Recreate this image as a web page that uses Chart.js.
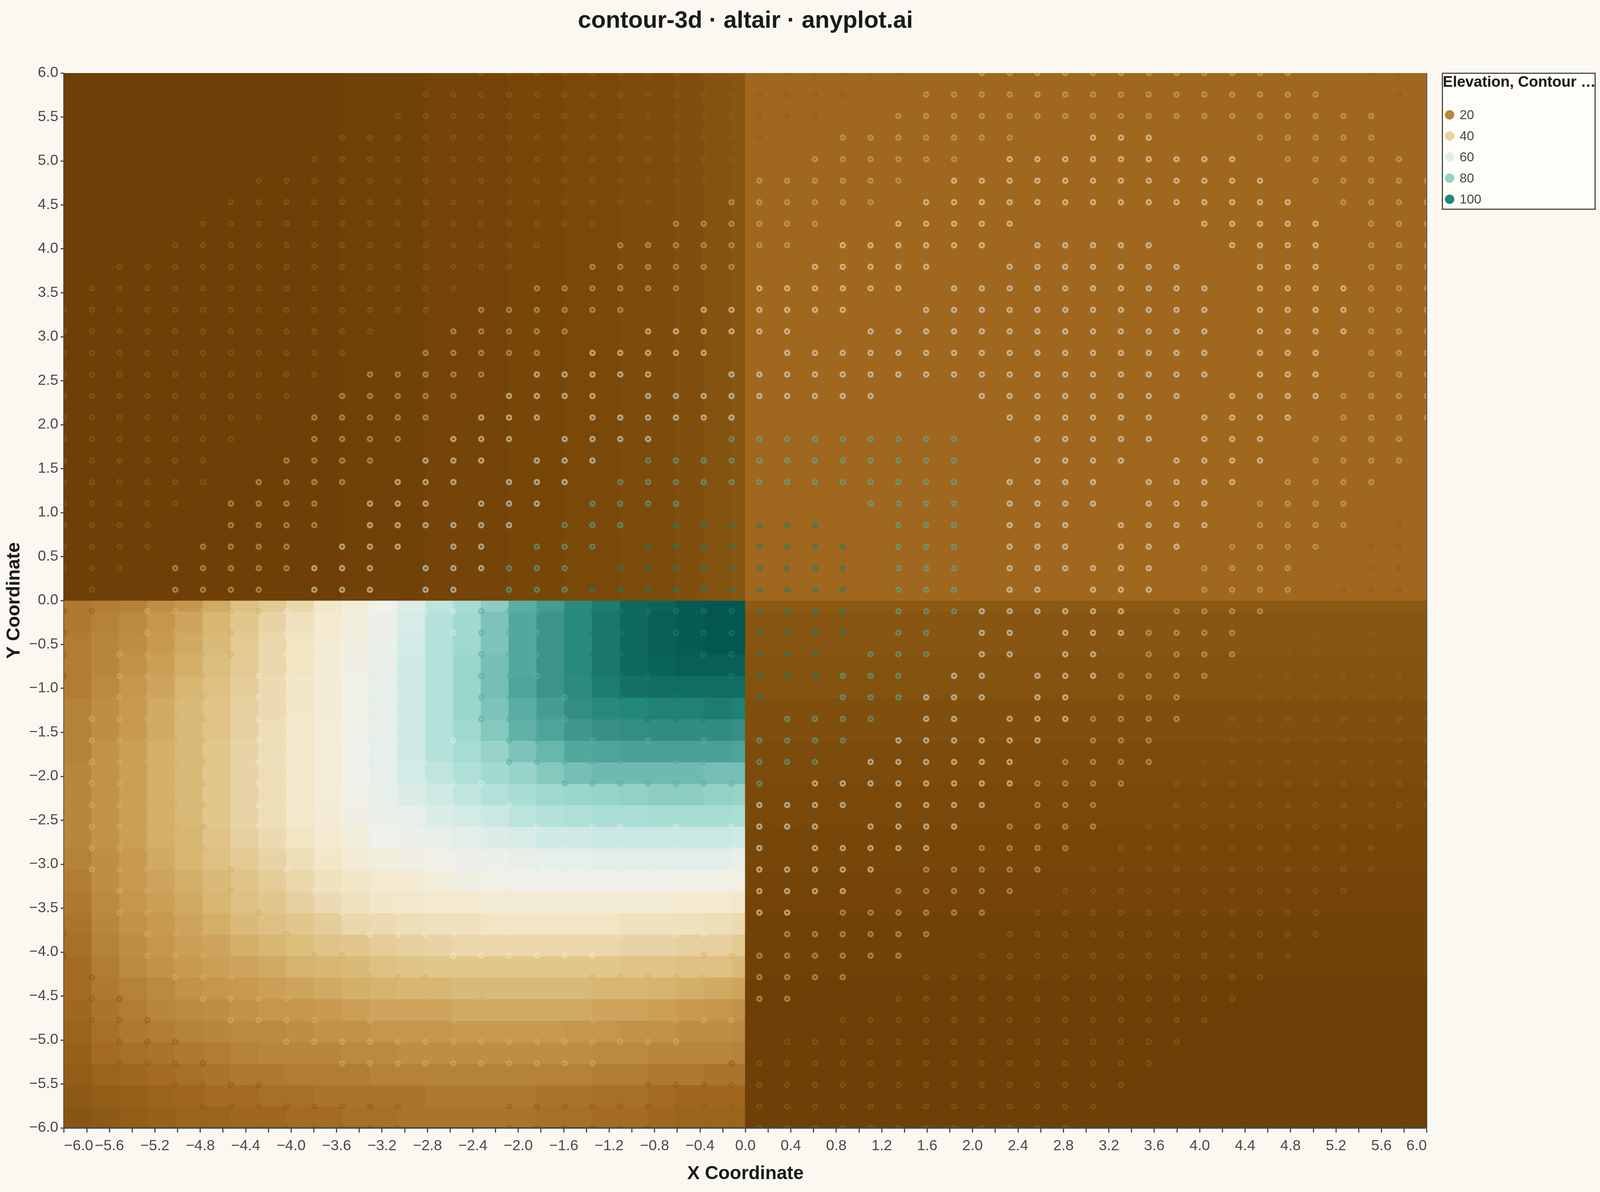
<!DOCTYPE html>
<html>
<head>
<meta charset="utf-8">
<title>contour-3d</title>
<script src="https://cdn.jsdelivr.net/npm/chart.js@4"></script>
<style>
  html, body { margin: 0; padding: 0; background: #faf8f1; overflow: hidden; }
  #wrap { position: relative; font-family: 'Liberation Sans', Arial, sans-serif; }
  #chart { display: block; }
  #legend { position: absolute; box-sizing: border-box; background: #fffdf7; border: 3px solid #4a4a44; overflow: hidden; }
  #legend .name { position: absolute; left: 0; font-weight: bold; color: #1a1a17; white-space: nowrap; }
  #legend .lab { position: absolute; color: #4a4a44; }
  #legend .dot { position: absolute; border-radius: 50%; }
</style>
</head>
<body>
<div id="wrap">
  <canvas id="chart"></canvas>
  <div id="legend"></div>
</div>
<script>
const chartTitle = 'contour-3d · altair · anyplot.ai';
const xTitle = 'X Coordinate';
const yTitle = 'Y Coordinate';
const legendTitle = 'Elevation, Contour …';
const legendValues = [20, 40, 60, 80, 100];

const xTicks = [-6, -5.8, -5.6, -5.4, -5.2, -5, -4.8, -4.6, -4.4, -4.2, -4, -3.8, -3.6, -3.4, -3.2, -3, -2.8, -2.6, -2.4, -2.2, -2, -1.8, -1.6, -1.4, -1.2, -1, -0.8, -0.6, -0.4, -0.2, 0, 0.2, 0.4, 0.6, 0.8, 1, 1.2, 1.4, 1.6, 1.8, 2, 2.2, 2.4, 2.6, 2.8, 3, 3.2, 3.4, 3.6, 3.8, 4, 4.2, 4.4, 4.6, 4.8, 5, 5.2, 5.4, 5.6, 5.8, 6];
const xLabels = [-6, -5.6, -5.2, -4.8, -4.4, -4, -3.6, -3.2, -2.8, -2.4, -2, -1.6, -1.2, -0.8, -0.4, 0, 0.4, 0.8, 1.2, 1.6, 2, 2.4, 2.8, 3.2, 3.6, 4, 4.4, 4.8, 5.2, 5.6, 6];
const yTicks = [-6, -5.5, -5, -4.5, -4, -3.5, -3, -2.5, -2, -1.5, -1, -0.5, 0, 0.5, 1, 1.5, 2, 2.5, 3, 3.5, 4, 4.5, 5, 5.5, 6];

// grid positions of the surface samples
const gridNodes = [-6, -5.7551, -5.5102, -5.2653, -5.0204, -4.7755, -4.5306, -4.2857, -4.0408, -3.7959, -3.551, -3.3061, -3.0612, -2.8163, -2.5714, -2.3265, -2.0816, -1.8367, -1.5918, -1.3469, -1.102, -0.8571, -0.6122, -0.3673, -0.1224, 0.1224, 0.3673, 0.6122, 0.8571, 1.102, 1.3469, 1.5918, 1.8367, 2.0816, 2.3265, 2.5714, 2.8163, 3.0612, 3.3061, 3.551, 3.7959, 4.0408, 4.2857, 4.5306, 4.7755, 5.0204, 5.2653, 5.5102, 5.7551, 6];

// visible elevation, x < 0 and y < 0: rows from y = 0 down, columns from x = -6 to 0
const lowerLeftRows = [
  [17,18,19,22,24,28,34,37,41,47,50,55,62,68,75,81,88,92,98,102,106,107,109,110,111],
  [17,19,21,24,27,31,36,40,44,48,51,56,63,70,76,83,89,94,99,103,106,108,109,110,111],
  [18,20,22,25,28,32,37,41,45,49,52,57,64,71,77,83,89,94,99,103,106,108,109,110,110],
  [18,20,23,26,29,33,37,41,45,49,53,58,65,71,78,84,89,94,99,103,106,107,108,108,108],
  [18,21,24,27,31,34,38,42,46,49,54,59,65,71,78,84,90,94,98,102,104,105,105,105,105],
  [19,22,25,28,32,35,39,42,46,49,54,59,65,71,78,83,88,92,96,99,100,101,101,102,101],
  [19,22,25,28,32,35,39,43,47,50,54,59,65,71,77,82,87,90,93,95,96,97,97,97,95],
  [19,23,26,29,32,36,40,43,47,50,55,59,65,70,75,79,83,86,89,90,91,91,91,91,90],
  [20,23,26,29,32,36,40,43,47,50,55,59,64,68,72,76,79,82,84,85,85,85,85,84,84],
  [20,23,26,29,32,36,40,43,47,50,54,59,62,65,68,71,74,77,78,79,80,81,81,80,79],
  [20,23,26,29,32,36,40,43,47,49,53,57,59,62,64,66,69,71,72,73,73,74,74,74,73],
  [20,23,26,29,31,35,39,42,45,48,51,55,56,58,60,62,63,65,65,66,66,66,66,66,65],
  [19,22,25,28,31,34,37,40,43,46,49,51,53,54,56,57,58,59,59,60,60,60,60,60,58],
  [18,22,25,27,29,32,35,38,41,44,46,48,49,51,53,54,55,55,55,55,55,55,54,54,53],
  [17,21,24,26,28,31,34,36,39,42,44,46,47,48,48,49,49,49,49,49,49,49,48,48,47],
  [16,20,23,25,27,29,32,34,36,38,41,42,43,44,44,45,45,45,45,45,44,44,44,43,42],
  [15,19,22,24,26,27,29,31,33,35,36,38,39,40,41,41,41,41,41,41,40,40,39,39,37],
  [14,18,21,23,25,26,27,28,30,31,32,34,35,36,36,36,36,36,36,36,35,35,34,34,32],
  [14,17,19,21,23,24,25,26,27,28,29,30,31,31,32,32,32,32,32,31,31,30,29,28,27],
  [13,16,18,20,21,22,23,24,24,25,26,27,27,27,28,28,28,28,28,27,27,26,25,24,23],
  [12,15,17,18,19,20,21,21,22,23,23,24,24,24,25,25,25,25,24,24,23,23,22,22,21],
  [11,14,15,16,17,18,19,20,20,20,21,21,22,22,22,22,22,22,22,21,21,20,20,20,19],
  [10,12,13,14,15,16,17,17,18,18,18,19,19,19,19,19,19,19,19,18,18,17,17,16,16],
  [9,10,11,12,13,14,14,15,15,16,16,16,16,17,17,17,17,16,16,15,15,14,13,13,13],
  [8,9,10,11,12,12,13,13,14,14,15,15,16,16,16,16,16,15,15,14,14,13,12,12,12]
];
// x < 0 and y > 0 only changes along x
const upperLeftCols = [0, 0, 0, 0, 0, 0, 0, 0, 0, 0, 1, 1, 1, 2, 2, 2, 3, 3, 4, 4, 5, 5, 6, 7, 8];
// x > 0 and y < 0 only changes along y, rows from y = 0 down
const lowerRightRows = [9, 8, 8, 7, 7, 6, 6, 5, 5, 4, 4, 3, 3, 2, 2, 1, 1, 1, 0, 0, 0, 0, 0, 0, 0];
// x > 0 and y > 0 is flat
const upperRightValue = 13;

// contour rings, elevation of each band
const ringLevels = [0, 10, 29, 46, 62, 0, 88, 102];
// one row per y from y = 6 down: [first column, last column, band]
const ringRows = [
  [[15,30,1],[33,44,2],[47,48,1]],
  [[13,28,1],[31,45,2],[48,48,1]],
  [[12,27,1],[30,47,2]],
  [[10,25,1],[28,34,2],[37,39,3],[43,47,2]],
  [[9,24,1],[27,32,2],[34,42,3],[44,48,2]],
  [[7,23,1],[25,30,2],[32,43,3],[45,49,2]],
  [[6,21,1],[24,29,2],[31,44,3],[46,49,2]],
  [[5,19,1],[22,27,2],[30,34,3],[41,45,3],[47,49,2]],
  [[4,17,1],[20,26,2],[28,33,3],[35,39,4],[42,45,3],[47,49,2]],
  [[2,16,1],[19,24,2],[27,31,3],[34,40,4],[43,45,3],[47,49,2]],
  [[1,14,1],[17,22,2],[25,30,3],[32,41,4],[43,46,3],[47,49,2]],
  [[0,13,1],[15,20,2],[23,28,3],[31,41,4],[43,46,3],[47,49,2]],
  [[0,11,1],[14,18,2],[21,26,3],[29,41,4],[43,46,3],[47,49,2]],
  [[0,10,1],[13,17,2],[19,23,3],[26,41,4],[43,45,3],[47,49,2]],
  [[0,9,1],[11,15,2],[17,21,3],[24,41,4],[43,45,3],[47,49,2]],
  [[0,8,1],[10,14,2],[16,19,3],[21,29,4],[33,40,4],[42,45,3],[46,49,2]],
  [[0,7,1],[9,13,2],[15,17,3],[19,24,4],[34,39,4],[41,44,3],[46,49,2]],
  [[0,6,1],[9,12,2],[14,16,3],[18,21,4],[24,32,6],[35,39,4],[41,43,3],[45,48,2]],
  [[0,5,1],[8,11,2],[13,15,3],[17,19,4],[21,32,6],[35,38,4],[40,43,3],[45,48,2]],
  [[0,5,1],[7,10,2],[12,14,3],[16,18,4],[20,32,6],[34,37,4],[39,42,3],[44,47,2]],
  [[0,4,1],[6,9,2],[11,13,3],[15,17,4],[19,22,6],[29,32,6],[34,37,4],[39,41,3],[43,46,2]],
  [[0,3,1],[6,9,2],[11,13,3],[14,16,4],[18,20,6],[22,27,7],[30,32,6],[34,36,4],[38,41,3],[43,46,2],[48,48,1]],
  [[0,3,1],[5,8,2],[10,12,3],[14,15,4],[17,19,6],[21,28,7],[30,32,6],[34,36,4],[38,40,3],[42,45,2],[47,48,1]],
  [[0,2,1],[4,8,2],[9,11,3],[13,15,4],[16,18,6],[20,28,7],[30,32,6],[34,36,4],[37,39,3],[41,44,2],[47,48,1]],
  [[1,1,1],[4,7,2],[9,11,3],[13,14,4],[16,18,6],[19,28,7],[30,32,6],[34,35,4],[37,39,3],[41,44,2],[46,48,1]],
  [[0,1,1],[3,7,2],[8,9,3],[12,14,4],[15,17,6],[19,28,7],[30,32,6],[33,35,4],[36,38,3],[40,43,2],[45,48,1]],
  [[0,0,1],[3,6,2],[8,9,3],[12,12,4],[14,14,4],[15,17,6],[19,20,7],[22,28,7],[30,31,6],[33,34,4],[36,38,3],[39,42,2],[44,48,1]],
  [[0,0,1],[2,6,2],[8,9,3],[12,12,4],[15,17,6],[19,20,7],[23,27,7],[29,31,6],[33,34,4],[36,37,3],[39,42,2],[44,48,1]],
  [[0,0,1],[2,5,2],[7,8,3],[11,12,4],[15,17,6],[19,21,7],[24,27,7],[28,30,6],[32,33,4],[35,37,3],[38,41,2],[43,49,1]],
  [[2,5,2],[7,8,3],[11,12,4],[15,16,6],[18,18,6],[20,23,7],[25,25,7],[28,30,6],[31,33,4],[35,36,3],[38,40,2],[43,49,1]],
  [[1,5,2],[7,8,3],[11,12,4],[15,16,6],[18,18,6],[21,23,7],[26,29,6],[31,32,4],[34,36,3],[37,40,2],[42,49,1]],
  [[1,5,2],[7,7,3],[11,12,4],[14,14,4],[16,17,6],[19,19,6],[21,21,6],[23,23,6],[25,28,6],[30,32,4],[33,35,3],[37,39,2],[42,49,1]],
  [[1,5,2],[7,8,3],[11,13,4],[16,20,6],[22,23,6],[25,27,6],[29,31,4],[32,34,3],[36,39,2],[41,49,1]],
  [[1,2,2],[4,5,2],[7,7,3],[12,15,4],[18,24,6],[25,25,6],[27,30,4],[31,34,3],[35,38,2],[40,49,1]],
  [[1,5,2],[7,7,3],[12,14,4],[16,16,4],[25,28,4],[30,33,3],[35,37,2],[40,49,1]],
  [[1,5,2],[7,7,3],[13,15,4],[17,17,4],[19,20,4],[22,22,4],[24,24,4],[25,27,4],[29,32,3],[34,37,2],[39,48,1]],
  [[1,5,2],[8,8,3],[14,16,4],[18,18,4],[20,20,4],[22,24,4],[25,25,4],[27,31,3],[33,36,2],[38,47,1]],
  [[1,4,2],[6,6,2],[8,9,3],[17,21,4],[25,29,3],[31,35,2],[37,47,1]],
  [[2,6,2],[9,10,3],[16,16,3],[25,28,3],[30,34,2],[36,46,1]],
  [[2,4,2],[7,7,2],[10,12,3],[25,26,3],[28,33,2],[35,45,1]],
  [[0,0,1],[3,5,2],[8,8,2],[11,16,3],[20,20,3],[22,23,3],[26,31,2],[34,45,1]],
  [[0,0,1],[3,5,2],[9,10,2],[14,19,3],[23,24,2],[25,30,2],[33,44,1]],
  [[1,1,1],[4,6,2],[11,13,2],[19,23,2],[25,28,2],[31,43,1]],
  [[1,2,1],[5,8,2],[13,13,2],[15,15,2],[19,19,2],[25,26,2],[30,42,1]],
  [[1,3,1],[6,9,2],[11,11,2],[14,14,2],[19,19,2],[22,24,2],[28,41,1]],
  [[2,4,1],[8,22,2],[26,40,1]],
  [[2,5,1],[10,19,2],[24,39,1]],
  [[4,7,1],[21,38,1]],
  [[1,1,1],[5,12,1],[16,37,1]],
  [[1,1,1],[3,12,1],[16,36,1]]
];

// color scale for elevation
const stopValues = [0, 5, 9, 13, 20, 25, 30, 35, 40, 45, 50, 55, 60, 65, 70, 75, 80, 85, 90, 95, 100, 105, 110];
const stopColors = ['#6e4007', '#7d4b0b', '#8c5a14', '#a0671f', '#b8863d', '#c89a50', '#d6b46e', '#e0c487', '#e8d3a6', '#f2e5c4', '#f3edd8', '#eff1ea', '#e4eee9', '#cfeae5', '#b5e2da', '#a5dcd3', '#93d1c6', '#6fbab0', '#4ca49a', '#388f85', '#24877b', '#116c62', '#03574e'];

function hexToRgb(hex) {
  return [1, 3, 5].map(i => parseInt(hex.slice(i, i + 2), 16));
}

function elevationColor(value, alpha = 1) {
  let i = 0;
  while (i < stopValues.length - 2 && value > stopValues[i + 1]) i++;
  const t = Math.max(0, Math.min(1, (value - stopValues[i]) / (stopValues[i + 1] - stopValues[i])));
  const a = hexToRgb(stopColors[i]);
  const b = hexToRgb(stopColors[i + 1]);
  const c = a.map((v, k) => Math.round(v + (b[k] - v) * t));
  return `rgba(${c[0]},${c[1]},${c[2]},${alpha})`;
}

// cell edges: the sample positions plus the jump at zero
const edges = [...gridNodes.slice(0, 25), 0, ...gridNodes.slice(25)];

function cellValue(col, row) {
  // row counts up from y = -6
  if (col < 25 && row < 25) return lowerLeftRows[24 - row][col];
  if (col < 25) return upperLeftCols[col];
  if (row < 25) return lowerRightRows[24 - row];
  return upperRightValue;
}

const wideCells = [];
const wideColors = [];
const narrowCells = [];
const narrowColors = [];
for (let col = 0; col < 50; col++) {
  for (let row = 0; row < 50; row++) {
    const cell = { x: (edges[col] + edges[col + 1]) / 2, y: [edges[row], edges[row + 1]] };
    const color = elevationColor(cellValue(col, row));
    if (col === 24 || col === 25) {
      narrowCells.push(cell);
      narrowColors.push(color);
    } else {
      wideCells.push(cell);
      wideColors.push(color);
    }
  }
}

const ringPoints = [];
const ringColors = [];
ringRows.forEach((spans, r) => {
  spans.forEach(([from, to, band]) => {
    for (let c = from; c <= to; c++) {
      ringPoints.push({ x: gridNodes[c], y: gridNodes[49 - r] });
      ringColors.push(elevationColor(ringLevels[band], 0.55));
    }
  });
});

// the window can be narrower than the 5637x3051 design, so layout follows its size
const pageW = window.innerWidth;
const pageH = window.innerHeight;
const sx = pageW / 5637;
const sy = pageH / 3051;

const axisColor = '#4a4a44';
const fontFamily = "'Liberation Sans', Arial, sans-serif";
const formatTick = v => (v < 0 ? '\u2212' : '') + Math.abs(v).toFixed(1);

const tickFont = 52 * sx;
const titleFont = 84 * sx;
const axisTitleFont = 66 * sx;

// thin frame line on the right edge of the plot
const rightEdge = {
  id: 'rightEdge',
  afterDatasetsDraw(chart) {
    const { ctx, chartArea } = chart;
    ctx.save();
    ctx.strokeStyle = axisColor;
    ctx.lineWidth = 2;
    ctx.beginPath();
    ctx.moveTo(chartArea.right, chartArea.top);
    ctx.lineTo(chartArea.right, chartArea.bottom);
    ctx.stroke();
    ctx.restore();
  }
};

const canvas = document.getElementById('chart');
canvas.width = pageW;
canvas.height = pageH;

new Chart(canvas, {
  type: 'bar',
  data: {
    datasets: [
      {
        type: 'scatter',
        data: ringPoints,
        pointStyle: 'circle',
        pointRadius: 5.5,
        pointBorderWidth: 5.5,
        pointBackgroundColor: 'rgba(0,0,0,0)',
        pointBorderColor: ringColors,
        showLine: false,
        clip: 0,
        order: 0
      },
      {
        data: wideCells,
        backgroundColor: wideColors,
        borderWidth: 0,
        inflateAmount: 1,
        grouped: false,
        categoryPercentage: 1,
        barPercentage: 2,
        order: 1
      },
      {
        data: narrowCells,
        backgroundColor: narrowColors,
        borderWidth: 0,
        inflateAmount: 1,
        grouped: false,
        categoryPercentage: 1,
        barPercentage: 1,
        order: 1
      }
    ]
  },
  options: {
    responsive: false,
    animation: false,
    devicePixelRatio: 1,
    events: [],
    layout: { padding: { left: 0, right: (5637 - 5027) * sx, top: 0, bottom: 0 } },
    plugins: {
      legend: { display: false },
      tooltip: { enabled: false },
      title: {
        display: true,
        text: chartTitle,
        fullSize: false,
        color: '#1a1a17',
        font: { family: fontFamily, size: titleFont, weight: 'bold', lineHeight: 1.2 },
        padding: { top: 54 * sy - titleFont * 0.6, bottom: 133 * sy - titleFont * 0.6 }
      }
    },
    scales: {
      x: {
        type: 'linear',
        min: -6,
        max: 6,
        offset: false,
        afterBuildTicks: s => { s.ticks = xTicks.map(value => ({ value })); },
        afterFit: s => { s.height = 164 * sy; },
        grid: { display: true, offset: false, drawOnChartArea: false, tickLength: 12 * sy, tickWidth: 3, tickColor: axisColor },
        border: { display: true, color: axisColor, width: 4, z: 1 },
        ticks: {
          autoSkip: false,
          maxRotation: 0,
          align: 'inner',
          padding: 12,
          color: axisColor,
          font: { family: fontFamily, size: tickFont },
          callback: v => (xLabels.includes(v) ? formatTick(v) : '')
        },
        title: {
          display: true,
          text: xTitle,
          color: '#1a1a17',
          font: { family: fontFamily, size: axisTitleFont, weight: 'bold', lineHeight: 1.2 },
          padding: { top: 0, bottom: 46 * sy - axisTitleFont * 0.6 }
        }
      },
      y: {
        type: 'linear',
        min: -6,
        max: 6,
        afterBuildTicks: s => { s.ticks = yTicks.map(value => ({ value })); },
        afterFit: s => { s.width = 225.5 * sx; },
        grid: { display: true, drawOnChartArea: false, tickLength: 12 * sx, tickWidth: 3, tickColor: axisColor },
        border: { display: true, color: axisColor, width: 3 },
        ticks: {
          autoSkip: false,
          padding: 6,
          color: axisColor,
          font: { family: fontFamily, size: tickFont },
          callback: v => formatTick(v)
        },
        title: {
          display: true,
          text: yTitle,
          color: '#1a1a17',
          font: { family: fontFamily, size: axisTitleFont, weight: 'bold', lineHeight: 1.2 },
          padding: { top: 50 * sx - axisTitleFont * 0.6, bottom: 0 }
        }
      }
    }
  },
  plugins: [rightEdge]
});

// legend box, same colors as the cells
const legend = document.getElementById('legend');
legend.style.left = 5079 * sx + 'px';
legend.style.top = 186 * sy + 'px';
legend.style.width = 543 * sx + 'px';
legend.style.height = 351 * sy + 'px';
const dotSize = 34 * sx;
const legendRows = legendValues.map((v, i) => {
  const rowY = (108 + i * 54) * sy;
  return `<span class="dot" style="left:${7 * sx}px;top:${rowY - dotSize / 2 - 3}px;width:${dotSize}px;height:${dotSize}px;background:${elevationColor(v)}"></span>` +
    `<span class="lab" style="left:${59 * sx}px;top:${rowY - 30 - 3}px;font-size:${46 * sx}px;line-height:60px">${v}</span>`;
}).join('');
legend.innerHTML = `<div class="name" style="top:${23 * sy - 30 - 3}px;font-size:${53 * sx}px;line-height:60px">${legendTitle}</div>` + legendRows;
</script>
</body>
</html>
